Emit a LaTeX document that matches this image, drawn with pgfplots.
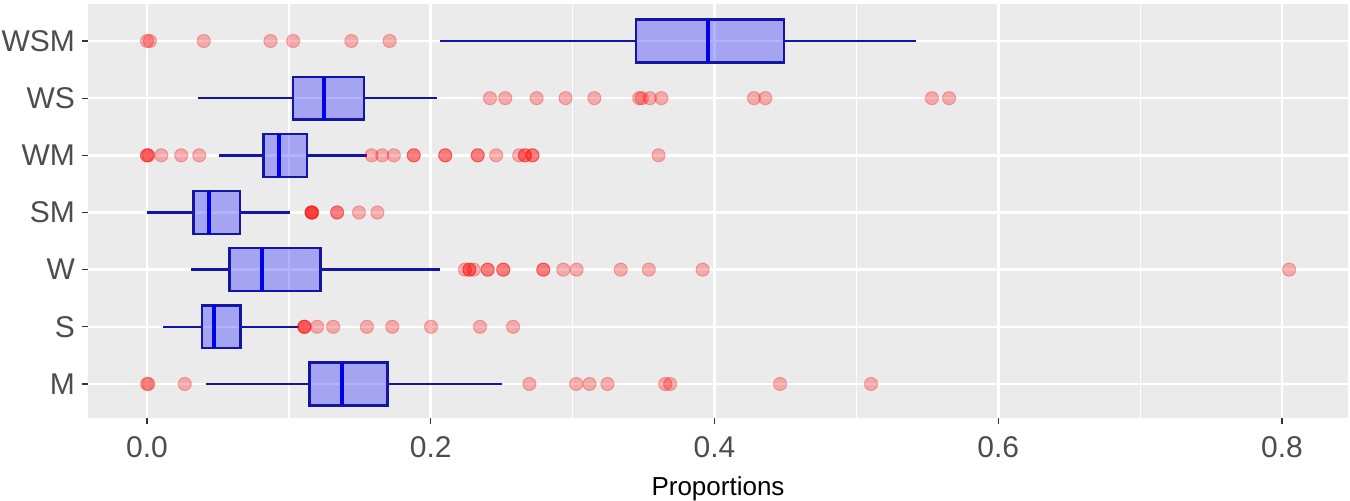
\documentclass[border=0pt]{standalone}
\usepackage{fontspec}
\setmainfont{Liberation Sans}
\usepackage{pgfplots}
\usepackage{pgfplotstable}
\pgfplotsset{compat=1.18}
\usepgfplotslibrary{statistics}

\definecolor{panel}{HTML}{EBEBEB}
\definecolor{ticktext}{HTML}{4D4D4D}
\definecolor{tickline}{HTML}{333333}
\definecolor{boxedge}{RGB}{20,20,165}
\definecolor{medline}{RGB}{0,0,235}

% outliers: value, category position (M=1 ... WSM=7)
\pgfplotstableread{
v pos
0.000 7
0.002 7
0.040 7
0.087 7
0.103 7
0.144 7
0.171 7
0.2417 6
0.2525 6
0.2746 6
0.2950 6
0.3153 6
0.3469 6
0.3488 6
0.3544 6
0.3625 6
0.4278 6
0.4358 6
0.5532 6
0.5653 6
0.000 5
0.000 5
0.001 5
0.0101 5
0.0241 5
0.0368 5
0.1583 5
0.1658 5
0.1740 5
0.1880 5
0.1880 5
0.2102 5
0.2102 5
0.2331 5
0.2331 5
0.2461 5
0.2623 5
0.2664 5
0.2664 5
0.2717 5
0.2717 5
0.3606 5
0.1160 4
0.1160 4
0.1160 4
0.1165 4
0.1340 4
0.1340 4
0.1494 4
0.1624 4
0.2241 3
0.2272 3
0.2272 3
0.2303 3
0.2401 3
0.2401 3
0.2511 3
0.2511 3
0.2793 3
0.2793 3
0.2934 3
0.3028 3
0.3339 3
0.3537 3
0.3916 3
0.8050 3
0.1108 2
0.1108 2
0.1112 2
0.1199 2
0.1312 2
0.1550 2
0.1729 2
0.2002 2
0.2347 2
0.2580 2
0.000 1
0.001 1
0.0266 1
0.2695 1
0.3025 1
0.3119 1
0.3245 1
0.3653 1
0.3687 1
0.4462 1
0.5103 1
}\outliers

\begin{document}
\begin{tikzpicture}
\begin{axis}[
    scale only axis,
    width=630pt, height=207pt,
    xmin=-0.0416, xmax=0.8465,
    ymin=0.405, ymax=7.647,
    axis background/.style={fill=panel},
    axis line style={draw=none},
    xtick={0,0.2,0.4,0.6,0.8},
    xticklabels={0.0,0.2,0.4,0.6,0.8},
    minor xtick={0.1,0.3,0.5,0.7},
    ytick={1,2,3,4,5,6,7},
    yticklabels={M,S,W,SM,WM,WS,WSM},
    xtick pos=left, ytick pos=left,
    grid=both,
    major grid style={white, line width=1.3pt},
    minor grid style={white, line width=0.65pt},
    tick align=outside,
    major tick length=3pt,
    minor tick length=0pt,
    tick style={tickline, line width=0.6pt},
    ticklabel style={font=\fontsize{15}{18}\selectfont, text=ticktext},
    xticklabel style={yshift=-2.5pt},
    xlabel={Proportions},
    xlabel style={font=\fontsize{13}{16}\selectfont, text=black, yshift=-3pt},
    boxplot/draw direction=x,
    boxplot/box extend=0.75,
    boxplot/whisker extend=0,
    boxplot/every box/.style={draw=boxedge, fill=blue, fill opacity=0.3, line width=1.2pt},
    boxplot/every whisker/.style={draw=boxedge, line width=1.2pt},
    boxplot/every median/.style={draw=medline, line width=2pt},
]
% M
\addplot[boxplot prepared={draw position=1, lower whisker=0.0415, lower quartile=0.1145,
    median=0.1374, upper quartile=0.1694, upper whisker=0.2504}] coordinates {};
% S
\addplot[boxplot prepared={draw position=2, lower whisker=0.011, lower quartile=0.0386,
    median=0.0474, upper quartile=0.0659, upper whisker=0.1073}] coordinates {};
% W
\addplot[boxplot prepared={draw position=3, lower whisker=0.0307, lower quartile=0.0581,
    median=0.0813, upper quartile=0.1224, upper whisker=0.2062}] coordinates {};
% SM
\addplot[boxplot prepared={draw position=4, lower whisker=0.0, lower quartile=0.0327,
    median=0.0438, upper quartile=0.0654, upper whisker=0.1008}] coordinates {};
% WM
\addplot[boxplot prepared={draw position=5, lower whisker=0.0508, lower quartile=0.0822,
    median=0.0927, upper quartile=0.1127, upper whisker=0.1548}] coordinates {};
% WS
\addplot[boxplot prepared={draw position=6, lower whisker=0.0362, lower quartile=0.1029,
    median=0.125, upper quartile=0.153, upper whisker=0.2044}] coordinates {};
% WSM
\addplot[boxplot prepared={draw position=7, lower whisker=0.2065, lower quartile=0.3447,
    median=0.3954, upper quartile=0.449, upper whisker=0.542}] coordinates {};

\addplot[only marks, mark=*, mark size=3.3pt,
    mark options={fill=red, draw=red, fill opacity=0.28, draw opacity=0.28, line width=0.5pt}]
    table[x=v, y=pos] {\outliers};
\end{axis}
\pgfresetboundingbox
\path (-44pt,-41.5pt) rectangle (631pt,209pt);
\end{tikzpicture}
\end{document}
